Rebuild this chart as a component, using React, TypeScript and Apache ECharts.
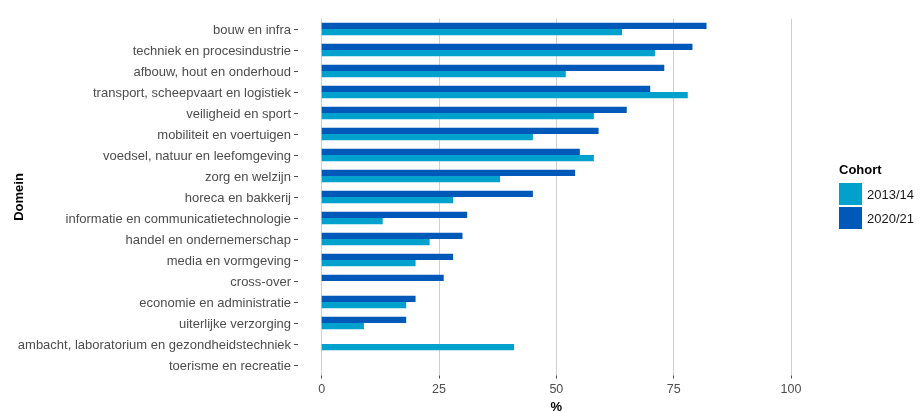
import React, { useEffect, useRef } from "react";
import * as echarts from "echarts";

const categories = [
  "bouw en infra",
  "techniek en procesindustrie",
  "afbouw, hout en onderhoud",
  "transport, scheepvaart en logistiek",
  "veiligheid en sport",
  "mobiliteit en voertuigen",
  "voedsel, natuur en leefomgeving",
  "zorg en welzijn",
  "horeca en bakkerij",
  "informatie en communicatietechnologie",
  "handel en ondernemerschap",
  "media en vormgeving",
  "cross-over",
  "economie en administratie",
  "uiterlijke verzorging",
  "ambacht, laboratorium en gezondheidstechniek",
  "toerisme en recreatie",
];

const cohort2013: (number | null)[] = [64, 71, 52, 78, 58, 45, 58, 38, 28, 13, 23, 20, null, 18, 9, 41, null];
const cohort2020: (number | null)[] = [82, 79, 73, 70, 65, 59, 55, 54, 45, 31, 30, 28, 26, 20, 18, null, null];

const xTicks = [0, 25, 50, 75, 100];

const FONT = "'Liberation Sans', Arial, sans-serif";

export default function App() {
  const ref = useRef<HTMLDivElement>(null);
  useEffect(() => {
    if (!ref.current) return;
    const chart = echarts.init(ref.current, undefined, { renderer: "svg" });
    chart.setOption({
      animation: false,
      textStyle: { fontFamily: FONT },
      grid: {
        left: 321.7,
        right: 132,
        top: 18.5,
        bottom: 36.5,
        containLabel: false,
        outerBoundsMode: "none",
      },
      xAxis: {
        type: "value",
        min: xTicks[0],
        max: xTicks[xTicks.length - 1],
        interval: 25,
        axisLine: { show: false },
        axisTick: { show: true, length: 3, lineStyle: { color: "#4d4d4d" } },
        axisLabel: { color: "#4d4d4d", fontSize: 12.5, margin: 7, fontFamily: FONT },
        splitLine: { show: true, lineStyle: { color: "#d0d0d0", width: 1 } },
        name: "%",
        nameLocation: "middle",
        nameGap: 19,
        nameTextStyle: { color: "#000", fontWeight: "bold", fontSize: 13, fontFamily: FONT },
      },
      yAxis: {
        type: "category",
        data: categories,
        inverse: true,
        axisLine: { show: false },
        axisTick: {
          show: true,
          length: 27.7,
          alignWithLabel: true,
          lineStyle: { color: "#4d4d4d", type: [0, 23.7, 4, 0] },
        },
        axisLabel: { color: "#4d4d4d", fontSize: 13, margin: 30.7, fontFamily: FONT },
        splitLine: { show: false },
      },
      legend: {
        orient: "vertical",
        left: 839,
        top: 183,
        padding: 0,
        itemWidth: 23,
        itemHeight: 22,
        itemGap: 2,
        icon: "rect",
        textStyle: { color: "#1a1a1a", fontSize: 13, fontFamily: FONT },
        data: ["2013/14", "2020/21"],
      },
      graphic: [
        {
          type: "text",
          left: 839,
          top: 163,
          style: { text: "Cohort", fontWeight: "bold", fontSize: 13, fill: "#000", fontFamily: FONT },
        },
        {
          type: "text",
          x: 18,
          y: 197,
          rotation: Math.PI / 2,
          style: {
            text: "Domein",
            fontWeight: "bold",
            fontSize: 13,
            fill: "#000",
            fontFamily: FONT,
            align: "center",
            verticalAlign: "middle",
          },
        },
      ],
      series: [
        {
          name: "2020/21",
          type: "bar",
          data: cohort2020,
          itemStyle: { color: "#0059b8" },
          barGap: "0%",
          barCategoryGap: "40%",
        },
        {
          name: "2013/14",
          type: "bar",
          data: cohort2013,
          itemStyle: { color: "#00a1cd" },
          barGap: "0%",
          barCategoryGap: "40%",
        },
      ],
    });
    return () => chart.dispose();
  }, []);
  return (
    <div
      ref={ref}
      style={{ position: "fixed", left: 0, top: 0, width: 923, height: 412 }}
    />
  );
}
